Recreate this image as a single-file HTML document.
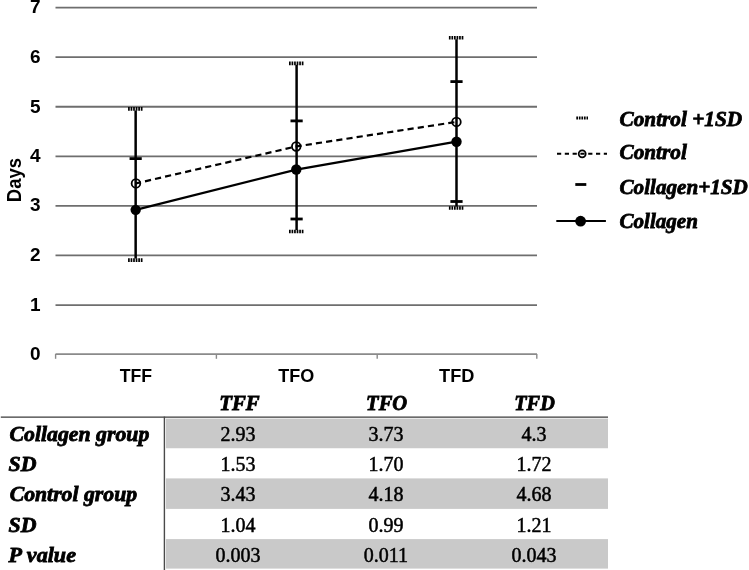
<!DOCTYPE html>
<html><head><meta charset="utf-8"><style>
html,body{margin:0;padding:0;background:#fff;width:749px;height:570px;overflow:hidden}
svg{display:block;will-change:transform}
.ax{font-family:"Liberation Sans",sans-serif;font-weight:bold;font-size:18px;fill:#000}
.lg{font-family:"Liberation Serif",serif;font-weight:bold;font-style:italic;font-size:21px;fill:#000;stroke:#000;stroke-width:0.8px}
.th{font-family:"Liberation Serif",serif;font-weight:bold;font-style:italic;font-size:20px;fill:#000;stroke:#000;stroke-width:0.8px}
.tl{font-family:"Liberation Serif",serif;font-weight:bold;font-style:italic;font-size:21px;fill:#000;stroke:#000;stroke-width:0.8px}
.td{font-family:"Liberation Serif",serif;font-size:20px;fill:#000;stroke:#000;stroke-width:0.5px}
</style></head><body>
<svg width="749" height="570" viewBox="0 0 749 570">
<line x1="55.5" x2="537" y1="305.03" y2="305.03" stroke="#6e6e6e" stroke-width="1.8"/>
<line x1="55.5" x2="537" y1="255.46" y2="255.46" stroke="#6e6e6e" stroke-width="1.8"/>
<line x1="55.5" x2="537" y1="205.89" y2="205.89" stroke="#6e6e6e" stroke-width="1.8"/>
<line x1="55.5" x2="537" y1="156.32" y2="156.32" stroke="#6e6e6e" stroke-width="1.8"/>
<line x1="55.5" x2="537" y1="106.75" y2="106.75" stroke="#6e6e6e" stroke-width="1.8"/>
<line x1="55.5" x2="537" y1="57.18" y2="57.18" stroke="#6e6e6e" stroke-width="1.8"/>
<line x1="55.5" x2="537" y1="7.61" y2="7.61" stroke="#6e6e6e" stroke-width="1.8"/>
<line x1="55.5" x2="537" y1="354.2" y2="354.2" stroke="#8a8a8a" stroke-width="1.8"/>
<line x1="55.6" x2="55.6" y1="354" y2="358.8" stroke="#8a8a8a" stroke-width="1.4"/>
<line x1="216.4" x2="216.4" y1="354" y2="358.8" stroke="#8a8a8a" stroke-width="1.4"/>
<line x1="377.2" x2="377.2" y1="354" y2="358.8" stroke="#8a8a8a" stroke-width="1.4"/>
<line x1="536.8" x2="536.8" y1="354" y2="358.8" stroke="#8a8a8a" stroke-width="1.4"/>
<text x="40.6" y="360.10" text-anchor="end" class="ax" style="font-size:19px">0</text>
<text x="40.6" y="310.73" text-anchor="end" class="ax" style="font-size:19px">1</text>
<text x="40.6" y="260.96" text-anchor="end" class="ax" style="font-size:19px">2</text>
<text x="40.6" y="211.49" text-anchor="end" class="ax" style="font-size:19px">3</text>
<text x="40.6" y="162.22" text-anchor="end" class="ax" style="font-size:19px">4</text>
<text x="40.6" y="112.95" text-anchor="end" class="ax" style="font-size:19px">5</text>
<text x="40.6" y="62.98" text-anchor="end" class="ax" style="font-size:19px">6</text>
<text x="40.6" y="13.01" text-anchor="end" class="ax" style="font-size:19px">7</text>
<text x="135.90" y="381.9" text-anchor="middle" class="ax" style="font-size:19px" textLength="32.4" lengthAdjust="spacingAndGlyphs">TFF</text>
<text x="296.35" y="381.9" text-anchor="middle" class="ax" style="font-size:19px" textLength="36.0" lengthAdjust="spacingAndGlyphs">TFO</text>
<text x="456.75" y="381.9" text-anchor="middle" class="ax" style="font-size:19px" textLength="35.3" lengthAdjust="spacingAndGlyphs">TFD</text>
<text transform="translate(21.4,180.1) rotate(-90)" text-anchor="middle" class="ax" style="font-size:20px" textLength="44.2" lengthAdjust="spacingAndGlyphs">Days</text>
<line x1="135.65" x2="135.65" y1="110.45" y2="258.55" stroke="#000" stroke-width="2.5"/>
<line x1="296.6" x2="296.6" y1="64.8" y2="230.0" stroke="#000" stroke-width="2.5"/>
<line x1="456.5" x2="456.5" y1="39.25" y2="206.5" stroke="#000" stroke-width="2.5"/>
<line x1="129.55" x2="141.75" y1="158.6" y2="158.6" stroke="#000" stroke-width="2.8"/>
<line x1="290.5" x2="302.70000000000005" y1="120.9" y2="120.9" stroke="#000" stroke-width="2.8"/>
<line x1="290.5" x2="302.70000000000005" y1="219.0" y2="219.0" stroke="#000" stroke-width="2.8"/>
<line x1="450.4" x2="462.6" y1="81.6" y2="81.6" stroke="#000" stroke-width="2.8"/>
<line x1="450.4" x2="462.6" y1="201.5" y2="201.5" stroke="#000" stroke-width="2.8"/>
<line x1="128.04999999999998" x2="142.65" y1="108.95" y2="108.95" stroke="#000" stroke-width="3.7" stroke-dasharray="1.7 0.85"/>
<line x1="128.04999999999998" x2="142.65" y1="260.05" y2="260.05" stroke="#000" stroke-width="3.7" stroke-dasharray="1.7 0.85"/>
<line x1="289.0" x2="303.6" y1="63.3" y2="63.3" stroke="#000" stroke-width="3.7" stroke-dasharray="1.7 0.85"/>
<line x1="289.0" x2="303.6" y1="231.5" y2="231.5" stroke="#000" stroke-width="3.7" stroke-dasharray="1.7 0.85"/>
<line x1="448.9" x2="463.5" y1="37.75" y2="37.75" stroke="#000" stroke-width="3.7" stroke-dasharray="1.7 0.85"/>
<line x1="448.9" x2="463.5" y1="208.0" y2="208.0" stroke="#000" stroke-width="3.7" stroke-dasharray="1.7 0.85"/>
<polyline points="135.95,183.40 296.25,146.45 456.45,121.90" fill="none" stroke="#000" stroke-width="2.2" stroke-dasharray="6.2 4.1" stroke-dashoffset="1.03"/>
<polyline points="135.70,209.85 296.30,169.55 456.50,141.70" fill="none" stroke="#000" stroke-width="2.3"/>
<circle cx="135.95" cy="183.4" r="4.3" fill="none" stroke="#000" stroke-width="1.8"/>
<circle cx="135.7" cy="209.85" r="5.2" fill="#000"/>
<circle cx="296.25" cy="146.45" r="4.3" fill="none" stroke="#000" stroke-width="1.8"/>
<circle cx="296.3" cy="169.55" r="5.2" fill="#000"/>
<circle cx="456.45" cy="121.9" r="4.3" fill="none" stroke="#000" stroke-width="1.8"/>
<circle cx="456.5" cy="141.7" r="5.2" fill="#000"/>
<text x="619.5" y="125.9" class="lg" textLength="122.6" lengthAdjust="spacingAndGlyphs">Control +1SD</text>
<text x="619.5" y="159.3" class="lg" textLength="67.3" lengthAdjust="spacingAndGlyphs">Control</text>
<text x="619.5" y="193.7" class="lg" textLength="128.4" lengthAdjust="spacingAndGlyphs">Collagen+1SD</text>
<text x="619.5" y="227.5" class="lg" textLength="78.4" lengthAdjust="spacingAndGlyphs">Collagen</text>
<line x1="576.3" x2="588" y1="118" y2="118" stroke="#000" stroke-width="3.2" stroke-dasharray="1.7 0.85"/>
<line x1="557" x2="607" y1="153.8" y2="153.8" stroke="#000" stroke-width="2" stroke-dasharray="4.2 3.6"/>
<circle cx="582.2" cy="153.8" r="3.5" fill="none" stroke="#000" stroke-width="1.8"/>
<line x1="575.3" x2="586.3" y1="184.5" y2="184.5" stroke="#000" stroke-width="2.8"/>
<line x1="556.3" x2="605.9" y1="221.1" y2="221.1" stroke="#000" stroke-width="2"/>
<circle cx="580.6" cy="221.2" r="5.4" fill="#000"/>
<rect x="165.9" y="418.6" width="442.1" height="29.65" fill="#c9c9c9"/>
<rect x="165.9" y="478.4" width="442.1" height="30.50" fill="#c9c9c9"/>
<rect x="165.9" y="539.1" width="442.1" height="29.50" fill="#c9c9c9"/>
<line x1="0.8" x2="608" y1="417.2" y2="417.2" stroke="#3a3a3a" stroke-width="1.3"/>
<line x1="164.4" x2="164.4" y1="416.6" y2="570" stroke="#4a4a4a" stroke-width="1.4"/>
<text x="239.45" y="409.8" text-anchor="middle" class="th" textLength="40.4" lengthAdjust="spacingAndGlyphs">TFF</text>
<text x="386.65" y="409.8" text-anchor="middle" class="th" textLength="41.1" lengthAdjust="spacingAndGlyphs">TFO</text>
<text x="534.5" y="409.8" text-anchor="middle" class="th" textLength="40.5" lengthAdjust="spacingAndGlyphs">TFD</text>
<text x="9.5" y="440.60" class="tl" textLength="139.8" lengthAdjust="spacingAndGlyphs">Collagen group</text>
<text x="237.9" y="440.60" text-anchor="middle" class="td">2.93</text>
<text x="386.0" y="440.60" text-anchor="middle" class="td">3.73</text>
<text x="534.0" y="440.60" text-anchor="middle" class="td">4.3</text>
<text x="8.6" y="471.00" class="tl" textLength="27.9" lengthAdjust="spacingAndGlyphs">SD</text>
<text x="237.9" y="471.00" text-anchor="middle" class="td">1.53</text>
<text x="386.0" y="471.00" text-anchor="middle" class="td">1.70</text>
<text x="534.0" y="471.00" text-anchor="middle" class="td">1.72</text>
<text x="9.7" y="501.40" class="tl" textLength="127.4" lengthAdjust="spacingAndGlyphs">Control group</text>
<text x="237.9" y="501.40" text-anchor="middle" class="td">3.43</text>
<text x="386.0" y="501.40" text-anchor="middle" class="td">4.18</text>
<text x="534.0" y="501.40" text-anchor="middle" class="td">4.68</text>
<text x="8.6" y="531.90" class="tl" textLength="27.9" lengthAdjust="spacingAndGlyphs">SD</text>
<text x="237.9" y="531.90" text-anchor="middle" class="td">1.04</text>
<text x="386.0" y="531.90" text-anchor="middle" class="td">0.99</text>
<text x="534.0" y="531.90" text-anchor="middle" class="td">1.21</text>
<text x="8.6" y="562.10" class="tl" textLength="67.4" lengthAdjust="spacingAndGlyphs">P value</text>
<text x="237.9" y="562.10" text-anchor="middle" class="td">0.003</text>
<text x="386.0" y="562.10" text-anchor="middle" class="td">0.011</text>
<text x="534.0" y="562.10" text-anchor="middle" class="td">0.043</text>
</svg>
</body></html>
